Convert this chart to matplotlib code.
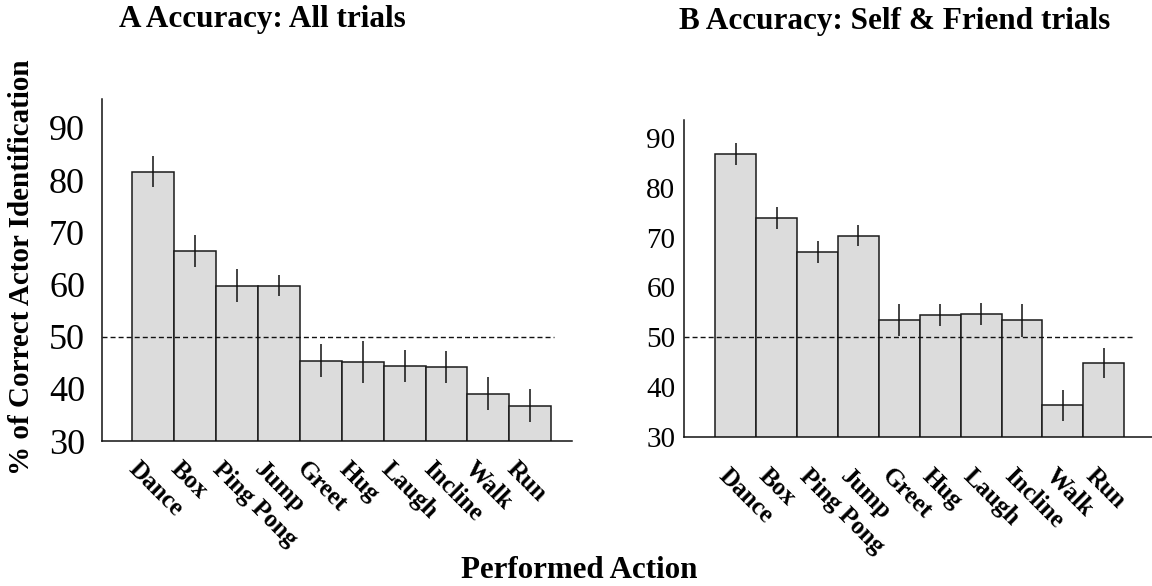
import matplotlib
matplotlib.use('Agg')
import matplotlib.pyplot as plt
import numpy as np
from matplotlib.transforms import ScaledTranslation

# ---- data ----
actions = ['Dance', 'Box', 'Ping Pong', 'Jump', 'Greet', 'Hug', 'Laugh', 'Incline', 'Walk', 'Run']
acc_all = [81.6, 66.4, 59.8, 59.8, 45.4, 45.1, 44.4, 44.2, 39.1, 36.8]
err_all = [3.0, 3.0, 3.1, 2.1, 3.1, 4.0, 3.1, 3.1, 3.1, 3.1]
acc_self_friend = [86.7, 74.0, 67.1, 70.4, 53.4, 54.4, 54.6, 53.4, 36.3, 44.8]
err_self_friend = [2.2, 2.2, 2.2, 2.2, 3.2, 2.2, 2.2, 3.3, 3.1, 3.0]
yticks = [30, 40, 50, 60, 70, 80, 90]
chance = 50
title_a = 'A Accuracy: All trials'
title_b = 'B Accuracy: Self & Friend trials'
ylabel = '% of Correct Actor Identification'
xlabel = 'Performed Action'

FONT = 'Liberation Serif'
plt.rcParams['font.family'] = [FONT, 'DejaVu Serif']

W, H = 1152, 586
fig = plt.figure(figsize=(W / 100, H / 100), dpi=100)


def px_axes(x0, x1, ytop, ybot):
    return fig.add_axes([x0 / W, (H - ybot) / H, (x1 - x0) / W, (ybot - ytop) / H])


axA = px_axes(101.7, 572, 99.3, 441)
axB = px_axes(684.3, 1152, 120, 436.7)


def draw(ax, vals, errs, xlim, ylim, dash_ext, ytick_size, ytick_pad, xpad, xshift):
    x = np.arange(len(actions))
    ax.bar(x, vals, width=1.0, color='#dcdcdc', edgecolor='#1a1a1a', linewidth=1.1, zorder=2)
    ax.errorbar(x, vals, yerr=errs, fmt='none', ecolor='#111111', elinewidth=1.1, capsize=0, zorder=3)
    ax.hlines(chance, xlim[0], len(actions) - 0.5 + dash_ext, colors='#111111',
              linestyles=(0, (3.6, 2.2)), linewidth=1.0, zorder=4)
    ax.set_xlim(*xlim)
    ax.set_ylim(*ylim)
    for s in ['top', 'right']:
        ax.spines[s].set_visible(False)
    for s in ['left', 'bottom']:
        ax.spines[s].set_linewidth(1.1)
        ax.spines[s].set_color('#111111')
    ax.set_yticks(yticks)
    ax.set_yticklabels([str(t) for t in yticks], fontsize=ytick_size, family=FONT)
    ax.tick_params(axis='y', length=0, pad=ytick_pad)
    ax.set_xticks(x)
    ax.set_xticklabels(actions, rotation=-45, ha='left', va='top', rotation_mode='anchor',
                       fontsize=18, fontweight='bold', family=FONT)
    ax.tick_params(axis='x', length=0, pad=xpad)
    for lab in ax.get_xticklabels():
        lab.set_transform(lab.get_transform() + ScaledTranslation(xshift / 100, 0, fig.dpi_scale_trans))


draw(axA, acc_all, err_all, (-1.214, 9.99), (30, 95.5), 0.05, 26, 12, 12, -12)
draw(axB, acc_self_friend, err_self_friend, (-1.258, 10.18), (30, 93.6), 0.26, 21, 6.5, 20, -6)

fig.text(262 / W, 1 - 20 / H, title_a, ha='center', va='center', fontsize=22.5, fontweight='bold', family=FONT)
fig.text(895 / W, 1 - 21 / H, title_b, ha='center', va='center', fontsize=22.5, fontweight='bold', family=FONT)
fig.text(22 / W, 1 - 267 / H, ylabel, rotation=90, ha='center', va='center', fontsize=21,
         fontweight='bold', family=FONT)
fig.text(579 / W, 1 - 570 / H, xlabel, ha='center', va='center', fontsize=22.3, fontweight='bold', family=FONT)

fig.savefig('out.png', dpi=100, facecolor='white')
